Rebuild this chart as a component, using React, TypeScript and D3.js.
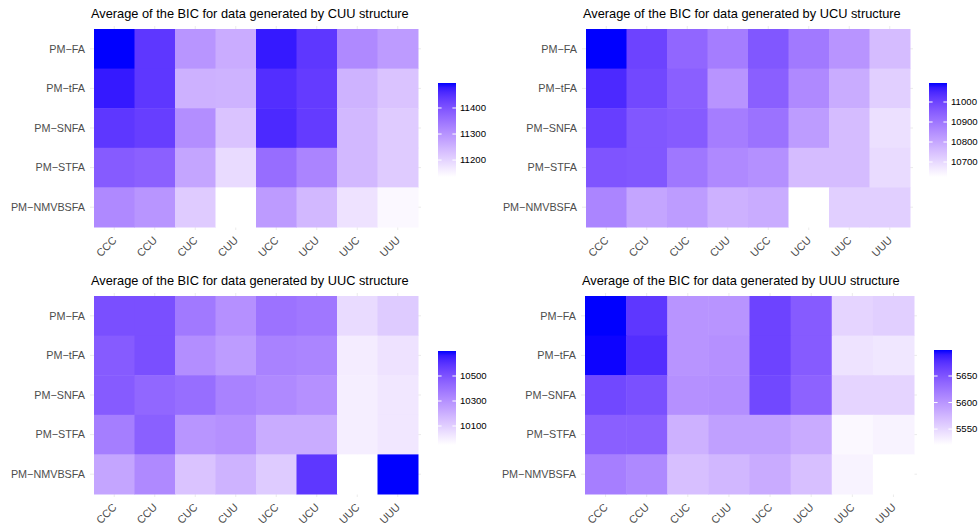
import React, { useEffect } from 'react';
import * as d3 from 'd3';

// rows / columns of every heatmap
const methods = ['PM−FA', 'PM−tFA', 'PM−SNFA', 'PM−STFA', 'PM−NMVBSFA'];
const structures = ['CCC', 'CCU', 'CUC', 'CUU', 'UCC', 'UCU', 'UUC', 'UUU'];

// average BIC, one row per method, one column per fitted structure
const cuuValues = [
  [11496, 11442, 11297, 11261, 11478, 11442, 11316, 11287],
  [11478, 11442, 11254, 11251, 11453, 11435, 11251, 11225],
  [11442, 11431, 11308, 11225, 11460, 11435, 11243, 11214],
  [11388, 11380, 11272, 11189, 11359, 11323, 11243, 11214],
  [11316, 11297, 11214, 11135, 11287, 11243, 11178, 11146],
];
const ucuValues = [
  [11095, 11001, 10931, 10884, 10963, 10893, 10837, 10757],
  [11048, 10992, 10945, 10837, 10945, 10860, 10790, 10719],
  [11010, 10963, 10954, 10884, 10907, 10822, 10757, 10686],
  [10968, 10963, 10898, 10860, 10846, 10757, 10757, 10696],
  [10869, 10804, 10822, 10780, 10790, 10625, 10719, 10719],
];
const uucValues = [
  [10512, 10512, 10377, 10301, 10399, 10384, 10061, 10113],
  [10474, 10512, 10309, 10264, 10347, 10339, 10008, 10038],
  [10474, 10437, 10414, 10347, 10324, 10301, 10001, 10023],
  [10362, 10459, 10286, 10301, 10211, 10211, 10001, 10023],
  [10234, 10324, 10136, 10189, 10113, 10587, 9948, 10700],
];
const uuuValues = [
  [5699, 5672, 5601, 5601, 5663, 5645, 5552, 5556],
  [5698, 5678, 5601, 5604, 5663, 5645, 5541, 5538],
  [5660, 5654, 5604, 5606, 5660, 5640, 5552, 5552],
  [5642, 5642, 5579, 5592, 5592, 5583, 5525, 5529],
  [5618, 5610, 5568, 5574, 5583, 5568, 5529, 5520],
];

const cuuTicks = [11200, 11300, 11400];
const ucuTicks = [10700, 10800, 10900, 11000];
const uucTicks = [10100, 10300, 10500];
const uuuTicks = [5550, 5600, 5650];

const panels = [
  { name: 'CUU', values: cuuValues, ticks: cuuTicks, x0: 94, x1: 418, y0: 29, y1: 227, bx: 438, by0: 83, by1: 177 },
  { name: 'UCU', values: ucuValues, ticks: ucuTicks, x0: 586, x1: 910, y0: 29, y1: 227, bx: 929, by0: 83, by1: 177 },
  { name: 'UUC', values: uucValues, ticks: uucTicks, x0: 94, x1: 418, y0: 296, y1: 494, bx: 438, by0: 351, by1: 445 },
  { name: 'UUU', values: uuuValues, ticks: uuuTicks, x0: 585, x1: 914, y0: 296, y1: 494, bx: 934, by0: 350, by1: 445 },
];

const font = '"Liberation Sans", Arial, sans-serif';
const barW = 18;

function Heatmap({ p, idx }) {
  const flat = p.values.flat();
  const [lo, hi] = d3.extent(flat);
  const color = d3.scaleSequential(d3.interpolateLab('#ffffff', '#0000ff')).domain([lo, hi]);
  const x = d3.scaleBand().domain(structures).range([p.x0, p.x1]);
  const y = d3.scaleBand().domain(methods).range([p.y0, p.y1]);
  const barY = d3.scaleLinear().domain([lo, hi]).range([p.by1, p.by0]);
  const gid = `grad${idx}`;
  const stops = d3.range(0, 1.0001, 0.05);

  return (
    <g>
      <text x={p.x0 - 3} y={p.y0 - 11} fontSize={12.8} fill="#000" fontFamily={font}>
        {`Average of the BIC for data generated by ${p.name} structure`}
      </text>
      {/* grid */}
      {methods.map((m) => (
        <line key={m} x1={p.x0 - 4} x2={p.x1 + 3} y1={y(m) + y.bandwidth() / 2} y2={y(m) + y.bandwidth() / 2}
          stroke="#ebebeb" strokeWidth={1} />
      ))}
      {structures.map((s) => (
        <line key={s} x1={x(s) + x.bandwidth() / 2} x2={x(s) + x.bandwidth() / 2} y1={p.y0 - 3} y2={p.y1 + 3}
          stroke="#ebebeb" strokeWidth={1} />
      ))}
      {/* tiles */}
      {p.values.map((row, i) =>
        row.map((v, j) => (
          <rect key={`${i}-${j}`} x={x(structures[j])} y={y(methods[i])}
            width={x.bandwidth() + 0.5} height={y.bandwidth() + 0.5} fill={color(v)} />
        ))
      )}
      {/* axes labels */}
      {methods.map((m) => (
        <text key={m} x={p.x0 - 9} y={y(m) + y.bandwidth() / 2} dy="0.35em" textAnchor="end"
          fontSize={10.8} fill="#4d4d4d" fontFamily={font}>{m}</text>
      ))}
      {structures.map((s) => (
        <text key={s} textAnchor="end" fontSize={10.8} fill="#4d4d4d" fontFamily={font}
          transform={`translate(${x(s) + x.bandwidth() / 2 + 3},${p.y1 + 14}) rotate(-45)`}>{s}</text>
      ))}
      {/* colour bar */}
      <defs>
        <linearGradient id={gid} x1="0" y1="1" x2="0" y2="0">
          {stops.map((t) => (
            <stop key={t} offset={t} stopColor={color(lo + t * (hi - lo))} />
          ))}
        </linearGradient>
      </defs>
      <rect x={p.bx} y={p.by0} width={barW} height={p.by1 - p.by0} fill={`url(#${gid})`} />
      {p.ticks.map((t) => (
        <g key={t}>
          <line x1={p.bx} x2={p.bx + barW / 5} y1={barY(t)} y2={barY(t)} stroke="#fff" strokeWidth={1} />
          <line x1={p.bx + barW - barW / 5} x2={p.bx + barW} y1={barY(t)} y2={barY(t)} stroke="#fff" strokeWidth={1} />
          <text x={p.bx + barW + 4} y={barY(t)} dy="0.35em" fontSize={9.6} fill="#000" fontFamily={font}>{t}</text>
        </g>
      ))}
    </g>
  );
}

export default function App() {
  useEffect(() => {
    document.body.style.margin = '0';
  }, []);
  return (
    <svg width={978} height={529} style={{ display: 'block', background: '#fff' }}>
      {panels.map((p, i) => (
        <Heatmap key={p.name} p={p} idx={i} />
      ))}
    </svg>
  );
}
